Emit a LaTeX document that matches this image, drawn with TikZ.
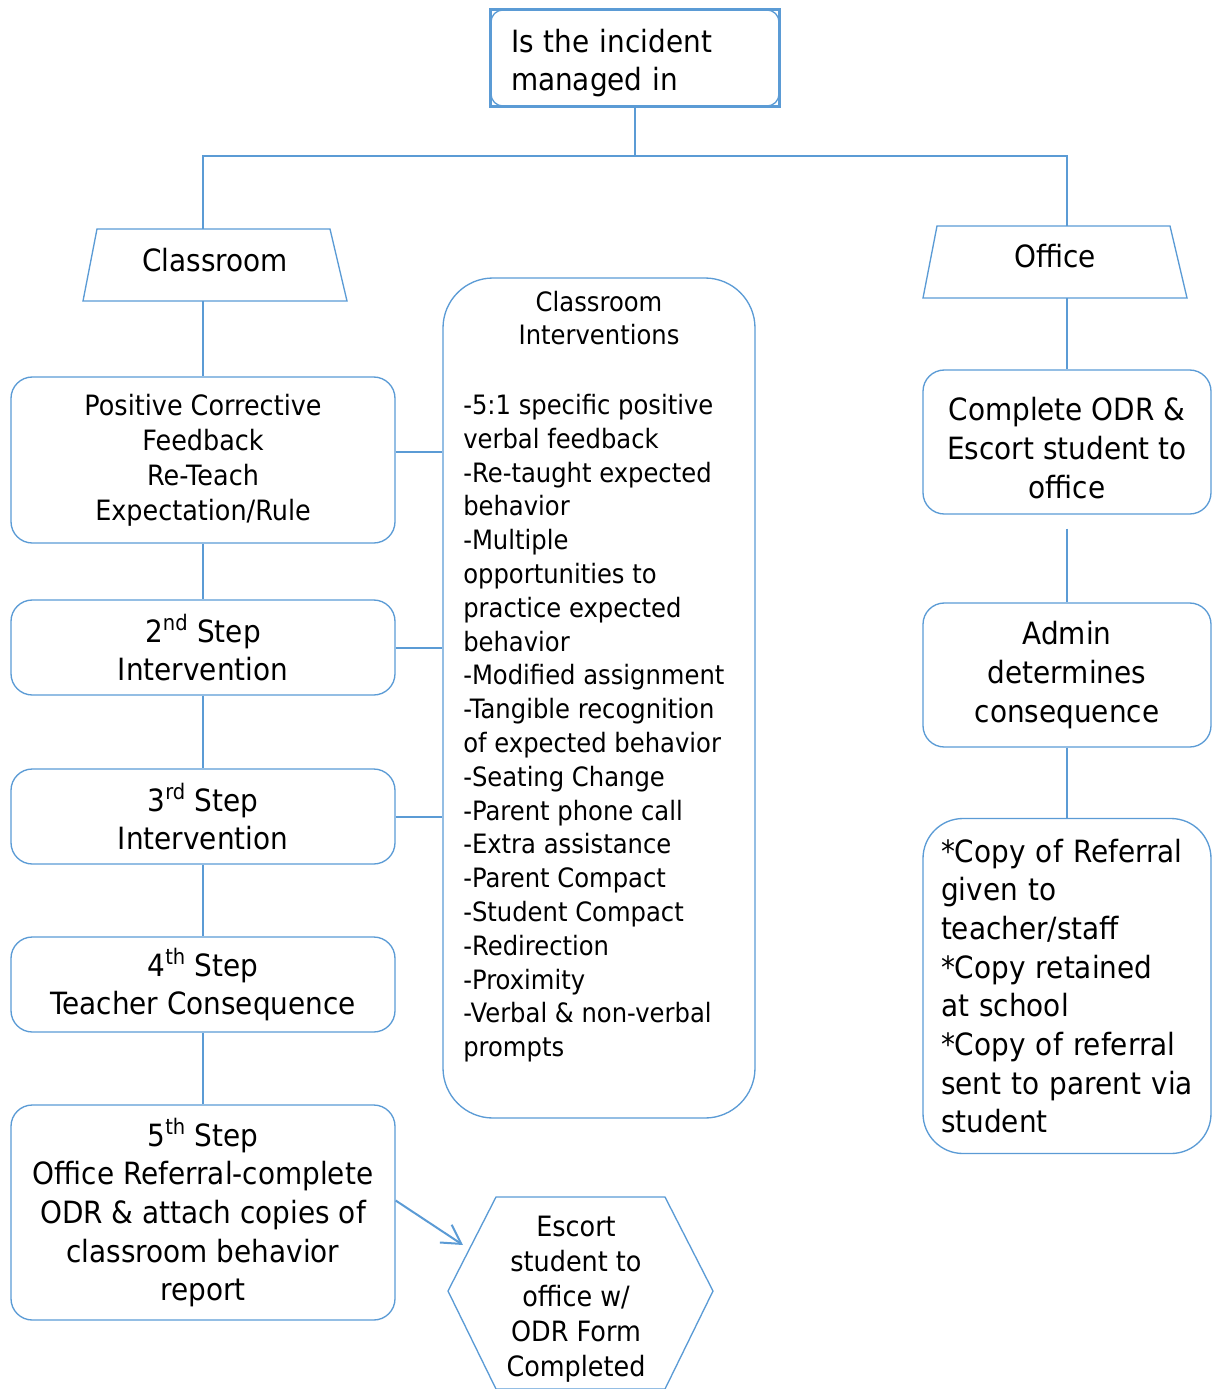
\documentclass[tikz,border=0pt]{standalone}
\usepackage{fontspec}
\setmainfont{DejaVu Sans}[FakeStretch=0.91]
\usetikzlibrary{arrows.meta}
\definecolor{lineblue}{HTML}{5B9BD5}

\begin{document}
\begin{tikzpicture}[x=0.75pt,y=-0.75pt,
  box/.style={draw=lineblue,line width=1pt,rounded corners=16pt,align=center,
    minimum width=288pt,inner sep=0pt},
  rbox/.style={box,minimum width=216pt},
  trap/.style={draw=lineblue,line width=1pt},
  link/.style={draw=lineblue,line width=1.5pt},
  big/.style={font=\fontsize{23}{29}\selectfont},
  small/.style={font=\fontsize{20}{25.35}\selectfont},
  mid/.style={font=\fontsize{21}{26.25}\selectfont}]

\useasboundingbox (0,0) rectangle (1216,1389);

\node[big,draw=lineblue,line width=1pt,rounded corners=9pt,minimum width=216pt,minimum height=72pt,
  text width=186pt,align=left,inner sep=0pt] (top) at (635,58) {\rule{0pt}{25pt}Is the incident\\managed in};
\draw[lineblue,line width=2pt] (top.north west) rectangle (top.south east);

% the two places
\draw[trap] (83,301) -- (97,229) -- (330,229) -- (347,301) -- cycle;
\node[big,inner sep=0pt] (classroom) at (215,260) {Classroom};
\coordinate (classtop) at (203,229);
\coordinate (classbot) at (203,301);
\draw[trap] (923,298) -- (937,226) -- (1170,226) -- (1187,298) -- cycle;
\node[big,inner sep=0pt] (office) at (1055,256) {Office};
\coordinate (officetop) at (1067,226);
\coordinate (officebot) at (1067,298);

% classroom side
\node[box,mid,minimum height=124.5pt] (pcf) at (203,460)
  {Positive Corrective\\Feedback\\Re-Teach\\Expectation/Rule};
\node[box,big,minimum height=71.25pt] (step2) at (203,647.5) {2\textsuperscript{nd} Step\\Intervention};
\node[box,big,minimum height=71.25pt] (step3) at (203,816.5) {3\textsuperscript{rd} Step\\Intervention};
\node[box,big,minimum height=71.25pt] (step4) at (203,984.5) {4\textsuperscript{th} Step\\Teacher Consequence};
\node[box,big,minimum height=161.25pt] (step5) at (203,1212.5)
  {5\textsuperscript{th} Step\\Office Referral-complete\\ODR \& attach copies of\\classroom behavior\\report};

\node[box,minimum width=234pt,minimum height=630pt,rounded corners=37.5pt] (ci) at (599,698) {};
\node[small,align=center,inner sep=0pt] (cihead) at (599,318) {Classroom\\Interventions};
\node[small,align=left,anchor=north west,inner sep=0pt] (cilist) at (463,394)
  {-5:1 specific positive\\verbal feedback\\-Re-taught expected\\behavior\\-Multiple\\opportunities to\\practice expected\\behavior\\-Modified assignment\\-Tangible recognition\\of expected behavior\\-Seating Change\\-Parent phone call\\-Extra assistance\\-Parent Compact\\-Student Compact\\-Redirection\\-Proximity\\-Verbal \& non-verbal\\prompts};

\draw[lineblue,line width=1pt] (448,1291) -- (496,1197) -- (665,1197) -- (713,1291) -- (665,1389) -- (496,1389) -- cycle;
\node[mid,align=center,inner sep=0pt] (escort) at (576,1299)
  {Escort\\student to\\office w/\\ODR Form\\Completed};
\coordinate (escortin) at (463,1245);

% office side
\node[rbox,big,minimum height=108pt] (odr) at (1067,442) {\rule{0pt}{26.5pt}Complete ODR \&\\Escort student to\\office};
\node[rbox,big,minimum height=108pt] (admin) at (1067,675) {Admin\\determines\\consequence};
\node[rbox,big,minimum height=251.25pt,rounded corners=30pt,text width=189pt,align=left] (copyref) at (1067,986)
  {*Copy of Referral\\{}given to\\{}teacher/staff\\{}*Copy retained\\{}at school\\{}*Copy of referral\\{}sent to parent via\\{}student};

% connectors
\coordinate (split) at (635,156);
\draw[link] (top.south) -- (split);
\draw[link] (split) -| (classtop);
\draw[link] (split) -| (officetop);
\draw[link] (classbot) -- (pcf.north);
\draw[link] (pcf.south) -- (step2.north);
\draw[link] (step2.south) -- (step3.north);
\draw[link] (step3.south) -- (step4.north);
\draw[link] (step4.south) -- (step5.north);
\draw[link] ([yshift=6pt]pcf.east) -- ([yshift=6pt]pcf.east -| ci.west);
\draw[link] (step2.east) -- (step2.east -| ci.west);
\draw[link] (step3.east) -- (step3.east -| ci.west);
\draw[link,-{Straight Barb[length=14pt,width=16pt]}] ([yshift=9pt]step5.east) -- (escortin);
\draw[link] (officebot) -- (odr.north);
\draw[link] ([yshift=-10.5pt]odr.south) -- (admin.north);
\draw[link] (admin.south) -- (copyref.north);
\end{tikzpicture}
\end{document}
